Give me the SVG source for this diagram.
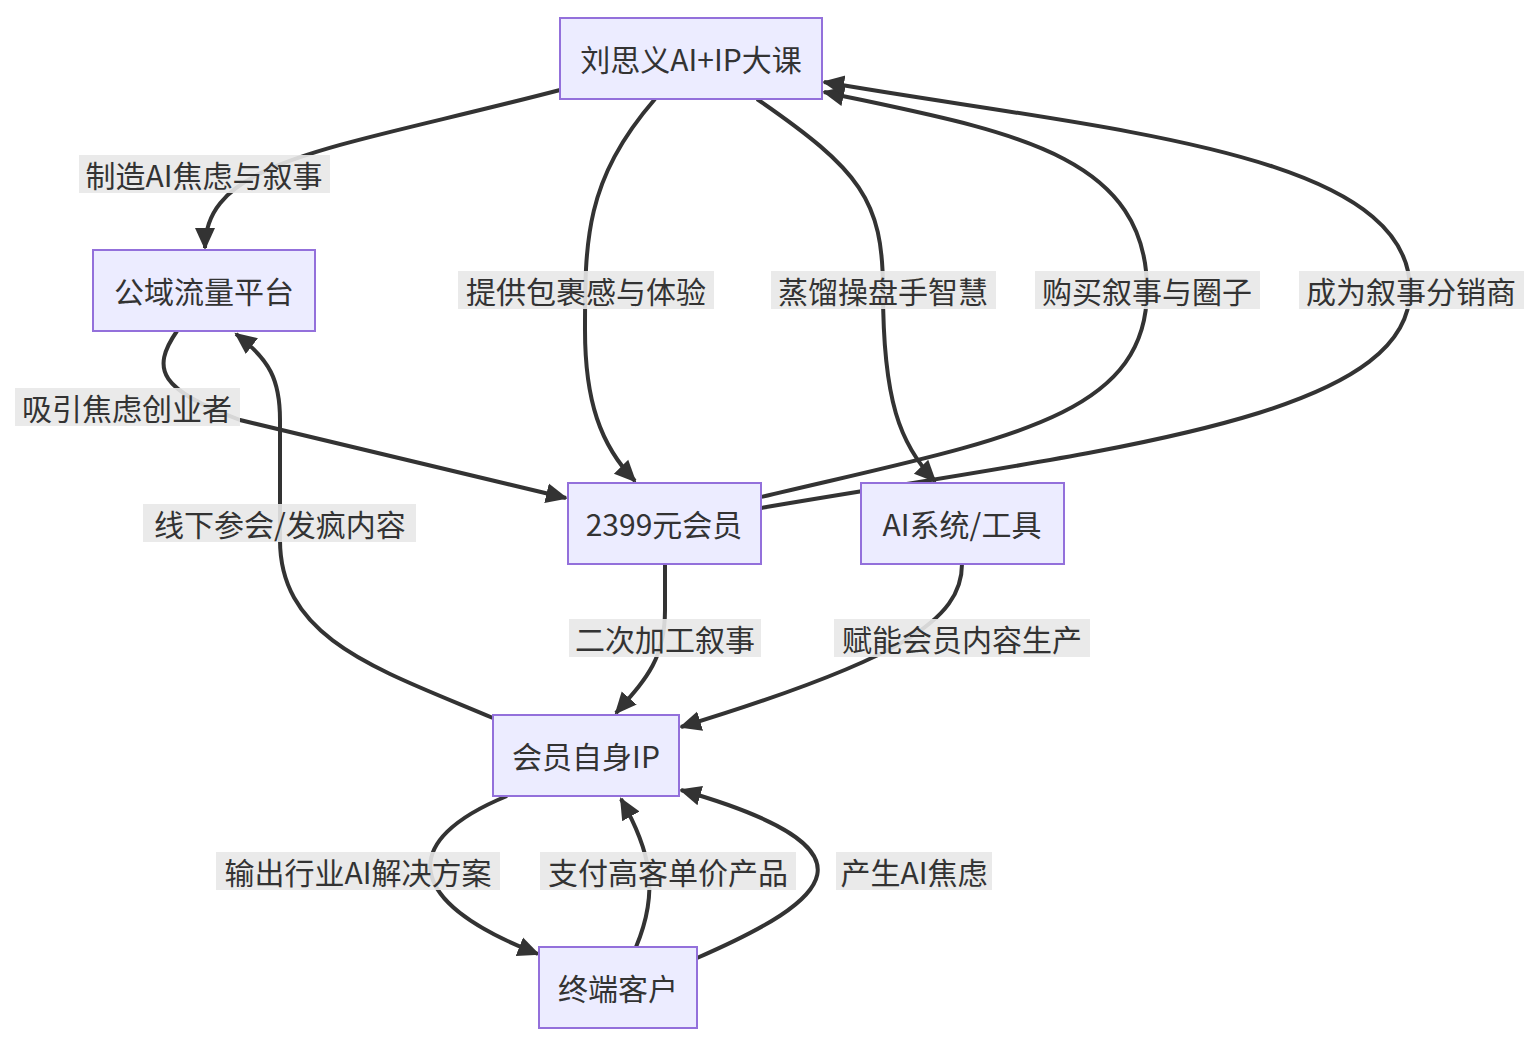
<svg xmlns="http://www.w3.org/2000/svg" width="1540" height="1044" viewBox="0 0 1540 1044">
<style>
.n rect{fill:#ECECFF;stroke:#9370DB;stroke-width:2}
text{font-family:"Noto Sans CJK SC","Liberation Sans",sans-serif;font-size:30px;fill:#333;text-anchor:middle;dominant-baseline:central}
.e path{fill:none;stroke:#333;stroke-width:4}
.lb rect{fill:#e8e8e8;opacity:0.9}
</style>
<defs>
<marker id="ah" markerUnits="userSpaceOnUse" markerWidth="24" markerHeight="24" refX="20" refY="12" orient="auto"><path d="M0,2 L22,12 L0,22 Z" fill="#333"/></marker>
</defs>
<rect width="1540" height="1044" fill="#fff"/>
<g class="e" id="connectors">
<path d="M560,90 C330,150 205,160 205,248" marker-end="url(#ah)"/>
<path d="M655,99 C585,180 585,240 585,330 C585,400 600,445 635,481" marker-end="url(#ah)"/>
<path d="M757,99 C860,170 883,200 883,290 C883,400 900,445 935,481" marker-end="url(#ah)"/>
<path d="M761,497 C1000,440 1147,420 1147,290 C1147,150 1000,130 824,92" marker-end="url(#ah)"/>
<path d="M761,508 C1100,450 1410,420 1410,290 C1410,150 1100,130 824,82" marker-end="url(#ah)"/>
<path d="M177,331 C150,370 160,390 240,420 L566,498" marker-end="url(#ah)"/>
<path d="M493,718 C380,670 280,640 280,540 L280,420 C280,380 270,360 236,334" marker-end="url(#ah)"/>
<path d="M665,564 L665,610 C665,660 645,680 616,713" marker-end="url(#ah)"/>
<path d="M962,564 C962,620 900,660 681,727" marker-end="url(#ah)"/>
<path d="M507,796 C400,840 400,900 538,954" marker-end="url(#ah)"/>
<path d="M636,947 C660,890 650,850 621,799" marker-end="url(#ah)"/>
<path d="M697,958 C830,900 890,850 681,790" marker-end="url(#ah)"/>
</g>
<g class="lb">
<rect x="79" y="155" width="251" height="38"/><text x="204" y="174">制造AI焦虑与叙事</text>
<rect x="458" y="271" width="256" height="38"/><text x="586" y="290">提供包裹感与体验</text>
<rect x="771" y="271" width="225" height="38"/><text x="883" y="290">蒸馏操盘手智慧</text>
<rect x="1035" y="271" width="225" height="38"/><text x="1147" y="290">购买叙事与圈子</text>
<rect x="1299" y="271" width="225" height="38"/><text x="1411" y="290">成为叙事分销商</text>
<rect x="15" y="388" width="225" height="38"/><text x="127" y="407">吸引焦虑创业者</text>
<rect x="143" y="504" width="273" height="38"/><text x="280" y="523">线下参会/发疯内容</text>
<rect x="569" y="619" width="192" height="38"/><text x="665" y="638">二次加工叙事</text>
<rect x="834" y="619" width="256" height="38"/><text x="962" y="638">赋能会员内容生产</text>
<rect x="216" y="852" width="284" height="38"/><text x="358" y="871">输出行业AI解决方案</text>
<rect x="540" y="852" width="256" height="38"/><text x="668" y="871">支付高客单价产品</text>
<rect x="836" y="852" width="156" height="38"/><text x="914" y="871">产生AI焦虑</text>
</g>
<g class="n" id="A"><rect x="560" y="18" width="262" height="81"/><text x="691" y="58">刘思义AI+IP大课</text></g>
<g class="n" id="B"><rect x="93" y="250" width="222" height="81"/><text x="204" y="290">公域流量平台</text></g>
<g class="n" id="C"><rect x="568" y="483" width="193" height="81"/><text x="664" y="523">2399元会员</text></g>
<g class="n" id="D"><rect x="861" y="483" width="203" height="81"/><text x="962" y="523">AI系统/工具</text></g>
<g class="n" id="E"><rect x="493" y="715" width="186" height="81"/><text x="586" y="755">会员自身IP</text></g>
<g class="n" id="F"><rect x="539" y="947" width="158" height="81"/><text x="618" y="987">终端客户</text></g>
</svg>
